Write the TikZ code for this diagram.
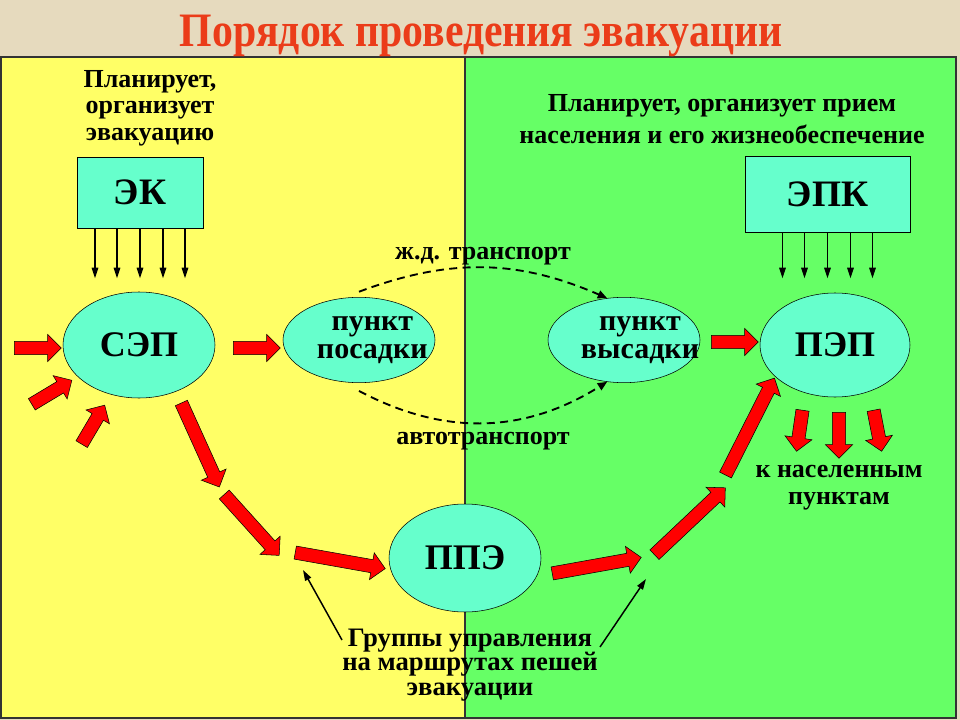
\documentclass[tikz,border=0pt]{standalone}
\usepackage{fontspec}
\setmainfont{Liberation Serif}
\usetikzlibrary{shapes.geometric,shapes.arrows,arrows.meta,calc}

\definecolor{paper}{RGB}{230,218,190}
\definecolor{panelyellow}{RGB}{255,255,102}
\definecolor{panelgreen}{RGB}{102,255,102}
\definecolor{aqua}{RGB}{102,255,204}
\definecolor{titlered}{RGB}{235,60,25}

\tikzset{
  station/.style={ellipse, draw=black, fill=aqua, inner sep=0pt,
    font=\fontsize{27}{27}\selectfont\bfseries},
  stationtext/.style={align=center, font=\fontsize{22.5}{21}\selectfont\bfseries},
  commission/.style={rectangle, draw=black, fill=aqua, inner sep=0pt,
    font=\fontsize{28}{28}\selectfont\bfseries},
  caption/.style={align=center, font=\fontsize{19.5}{20}\selectfont\bfseries},
  redarr/.style={single arrow, draw=black, thin, fill=red, inner xsep=0pt,
    inner ysep=4.75pt, single arrow head extend=5.25pt, anchor=center},
  transport/.style={dashed, dash pattern=on 6pt off 4pt, line width=1.4pt,
    -{Triangle[length=7pt,width=6pt]}},
  pointer/.style={line width=1.1pt, -{Triangle[length=8pt,width=5pt]}}
}

% red block arrow between two points
\newcommand{\redarrow}[2]{%
  \path let \p1=(#1), \p2=(#2), \n1={atan2(\y2-\y1,\x2-\x1)},
    \n2={veclen(\x2-\x1,\y2-\y1)} in
    ($(#1)!0.5!(#2)$) node[redarr, rotate=\n1, minimum height=\n2] {};}

\begin{document}
\begin{tikzpicture}[x=0.75pt, y=-0.75pt]
% Background and panels
\fill[paper] (0,0) rectangle (960,720);
\useasboundingbox (0,0) rectangle (960,720);
\fill[panelyellow] (1,57) rectangle (465,718);
\fill[panelgreen] (465,57) rectangle (956,718);
\draw[black!80, line width=0.8pt] (1,57) rectangle (956,718);
\draw[black!80, line width=0.8pt] (465,57) -- (465,718);

% Title
\node[font=\fontsize{36}{36}\selectfont\bfseries, text=titlered] (title) at (481,36)
  {\scalebox{0.87}[1]{Порядок проведения эвакуации}};

% Commissions
\node[caption] (plan1) at (150,108) {Планирует,\\организует\\эвакуацию};
\node[caption, font=\fontsize{19.5}{24}\selectfont\bfseries] (plan2) at (722,119)
  {Планирует, организует прием\\населения и его жизнеобеспечение};
\node[commission, minimum width=94.5pt, minimum height=53.25pt] (ek) at (140,192.5) {ЭК};
\node[commission, minimum width=123.75pt, minimum height=57pt] (epk) at (827.5,194) {ЭПК};

\foreach \dx in {-45,-23,0,23,45} {
  \draw[pointer, line width=0.8pt] ($(ek.south)+(\dx,0)$) -- ++(0,50);
  \draw[pointer, line width=0.8pt] ($(epk.south)+(\dx,0)$) -- ++(0,46);
}

% Points
\node[station, minimum width=114pt, minimum height=79.5pt] (sep) at (139,345) {СЭП};
\node[station, minimum width=114pt, minimum height=64pt,
  label={[stationtext, xshift=10pt]center:пункт\\посадки}] (posadka) at (359,340) {};
\node[station, minimum width=114pt, minimum height=64pt,
  label={[stationtext, xshift=12pt]center:пункт\\высадки}] (vysadka) at (624,340) {};
\node[station, minimum width=114pt, minimum height=81pt] (ppe) at (465,558) {ППЭ};
\node[station, minimum width=112.5pt, minimum height=78pt] (pep) at (835,345) {ПЭП};

% Transport
\draw[transport] ([yshift=4pt]posadka.north) to[bend left=22] (vysadka.112);
\draw[transport] ([yshift=-6pt]posadka.south) to[bend right=30] (vysadka.248);
\node[caption] (rail) at (483,256) {ж.д. транспорт};
\node[caption] (road) at (483,441) {автотранспорт};

% Red arrows
\coordinate (in1s) at (11,348);   \coordinate (in1e) at (58,348);
\coordinate (in2s) at (29,406);   \coordinate (in2e) at (69,382);
\coordinate (in3s) at (80,447);   \coordinate (in3e) at (103,408);
\coordinate (r1s) at (230,348);   \coordinate (r1e) at (277,348);
\coordinate (w1s) at (180,400);   \coordinate (w1e) at (218,484);
\coordinate (w2s) at (222,492);   \coordinate (w2e) at (277,553);
\coordinate (w3s) at (292,552);   \coordinate (w3e) at (382,568);
\coordinate (w4s) at (549,574);   \coordinate (w4e) at (638,558);
\coordinate (w5s) at (652,557);   \coordinate (w5e) at (723,490);
\coordinate (w6s) at (724,478);   \coordinate (w6e) at (773,381);
\coordinate (r2s) at (708,342);   \coordinate (r2e) at (755,342);
\coordinate (o1s) at (803,407);   \coordinate (o1e) at (797,448);
\coordinate (o2s) at (839,409);   \coordinate (o2e) at (839,455);
\coordinate (o3s) at (873,407);   \coordinate (o3e) at (881,448);
\foreach \a in {in1,in2,in3,r1,w1,w2,w3,w4,w5,w6,r2,o1,o2,o3} {
  \redarrow{\a s}{\a e}
}

\node[caption] (settl) at (839,488) {к населенным\\пунктам};

% Route control groups
\node[caption, font=\fontsize{20}{18.5}\selectfont\bfseries] (groups) at (470,665)
  {Группы управления\\на маршрутах пешей\\эвакуации};
\coordinate (gl) at (342,640); \coordinate (gle) at (303,570);
\coordinate (gr) at (600,647); \coordinate (gre) at (646,579);
\draw[pointer] (gl) -- (gle);
\draw[pointer] (gr) -- (gre);
\end{tikzpicture}
\end{document}
